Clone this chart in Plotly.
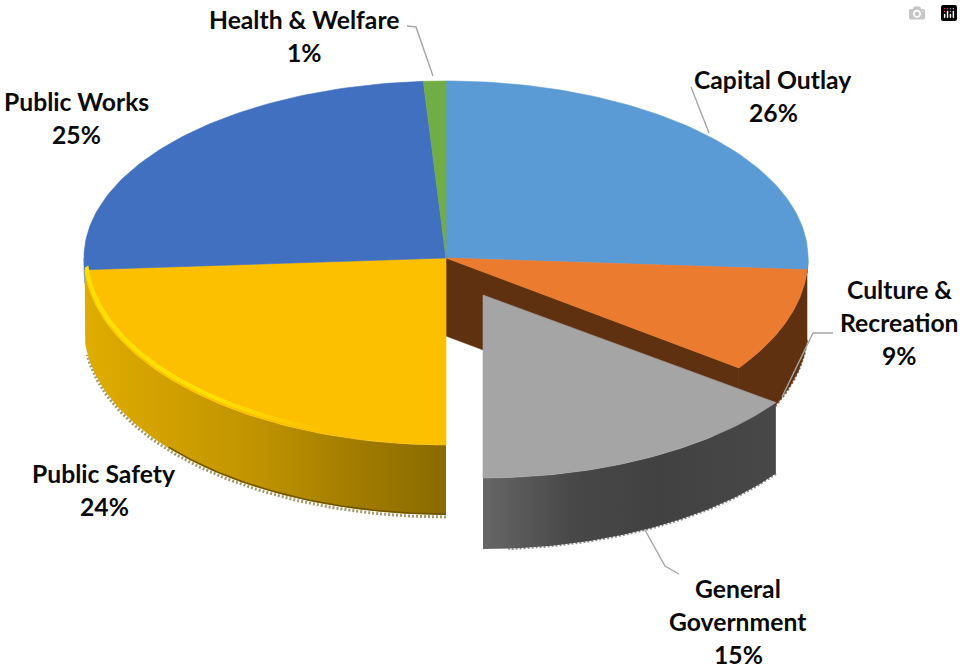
import numpy as np
import plotly.graph_objects as go

# Data
categories = ["Capital Outlay", "Culture & Recreation", "General Government",
              "Public Safety", "Public Works", "Health & Welfare"]
shares = [26, 9, 15, 24, 25, 1]
top_colors = ["#5B9BD5", "#EA7B2F", "#A5A5A5", "#FDC000", "#4270C0", "#70AD47"]
label_lines = [
    (["Capital Outlay", "26%"], 773, 79),
    (["Culture &", "Recreation", "9%"], 899, 289),
    (["General", "Government", "15%"], 738, 588),
    (["Public Safety", "24%"], 104, 473),
    (["Public Works", "25%"], 76, 101),
    (["Health & Welfare", "1%"], 304, 19),
]

# Projection of the tilted disc
CX, CY, RX, RY_BACK, RY_FRONT, DEPTH = 446, 258, 362, 177, 187, 70
LINE_STEP = 33.3


def rim(a0, a1, dx=0, dy=0, z=0, ry_front=RY_FRONT, scale=1.0, n=80):
    t = np.radians(np.linspace(a0, a1, n))
    c = np.cos(t)
    ry = np.where(c > 0, RY_BACK, ry_front)
    return (CX + dx + RX * scale * np.sin(t),
            CY + dy - ry * scale * c + z)


edges = np.cumsum([0] + shares) / sum(shares) * 360
fig = go.Figure()


def poly(x, y, color=None, grad=None):
    kw = dict(x=list(x), y=list(y), mode="lines", fill="toself",
              hoverinfo="skip", showlegend=False)
    if grad:
        kw["fillgradient"] = dict(type="horizontal", colorscale=grad)
        kw["line"] = dict(width=0)
    else:
        kw["fillcolor"] = color
        kw["line"] = dict(width=0.6, color=color)
    fig.add_trace(go.Scatter(**kw))


def wall(a0, a1, color=None, grad=None, depth=DEPTH, dx=0, dy=0, ry_front=RY_FRONT):
    x1, y1 = rim(a0, a1, dx, dy, 0, ry_front)
    x2, y2 = rim(a1, a0, dx, dy, depth, ry_front)
    poly(np.r_[x1, x2], np.r_[y1, y2], color, grad)


def edge(a0, a1, color, dx=0, dy=0, z=0, ry_front=RY_FRONT, dash="2px,2px", w=2.5):
    x, y = rim(a0, a1, dx, dy, z, ry_front)
    fig.add_trace(go.Scatter(x=x, y=y, mode="lines", hoverinfo="skip", showlegend=False,
                             line=dict(color=color, width=w, dash=dash)))


def wedge(i, dx=0, dy=0, ry_front=RY_FRONT):
    x, y = rim(edges[i], edges[i + 1], dx, dy, 0, ry_front)
    poly(np.r_[CX + dx, x, CX + dx], np.r_[CY + dy, y, CY + dy], top_colors[i])


BROWN = "#5F3110"
EX, EY, EY_RY = 37, 37, 183

# Culture & Recreation walls (behind the pulled slice)
xa, ya = rim(edges[2], edges[2], n=1)
poly([CX, xa[0], xa[0], CX], [CY, ya[0], ya[0] + DEPTH + 8, CY + DEPTH + 8], BROWN)
edge(edges[1], edges[2], "#8B6A4E", z=DEPTH + 1, w=1.5)
wall(edges[1], edges[2], BROWN)

# Rim of the back slices at the sides
wall(90, edges[1], "#2E5F8C", depth=3)
wall(edges[4], 270, "#4A88DC", depth=14)

# Public Safety wall
edge(edges[3], edges[4] - 4, "#A59A6A", z=DEPTH + 2, w=3)
wall(edges[3], edges[4],
     grad=[[0, "#E0AC00"], [0.45, "#C29500"], [0.75, "#A27C00"], [1, "#8A6A00"]])
edge(edges[3], edges[3] + 50, "#6F5500", z=DEPTH - 1, dash="solid", w=1.5)

# Top faces in place
wedge(0)
wedge(1)
wedge(3)
wedge(4)
wedge(5)

# Bevel highlight on the Public Safety rim
xo, yo = rim(edges[3] + 20, edges[4], z=-2)
xi, yi = rim(edges[4], edges[3] + 20, scale=0.99, z=-4)
poly(np.r_[xo, xi], np.r_[yo, yi],
     grad=[[0, "#FFE000"], [0.55, "#FFE000"], [1, "#FDC000"]])

# General Government, pulled out of the disc
edge(edges[2], edges[2] + 50, "#8F8F8F", EX, EY, DEPTH + 1, EY_RY, w=3)
wall(edges[2], edges[3],
     grad=[[0, "#666666"], [0.3, "#484848"], [0.6, "#414141"], [1, "#484848"]],
     dx=EX, dy=EY, ry_front=EY_RY, depth=DEPTH + 1)
wedge(2, EX, EY, EY_RY)

# Leader lines
for path in ["M407,26 L416,27 L433,76", "M691,87 L709,133",
             "M833,333 L813,333 L782,397", "M645,530 L665,566 L679,574"]:
    fig.add_shape(type="path", path=path, line=dict(color="#A6A6A6", width=1.4), layer="above")

# Labels
for lines, lx, ly in label_lines:
    for k, t in enumerate(lines):
        fig.add_annotation(x=lx, y=ly + k * LINE_STEP, text=t, showarrow=False,
                           xanchor="center", yanchor="middle",
                           font=dict(family="Lato", size=24.7, color="#0A0A0A", weight="bold"))

fig.update_layout(
    width=963, height=665, margin=dict(l=0, r=0, t=0, b=0),
    paper_bgcolor="white", plot_bgcolor="white", showlegend=False,
    xaxis=dict(range=[0, 963], visible=False, fixedrange=True),
    yaxis=dict(range=[665, 0], visible=False, fixedrange=True),
)
fig.write_html("out.html", post_script="document.body.style.margin='0';document.body.style.overflow='hidden';")
